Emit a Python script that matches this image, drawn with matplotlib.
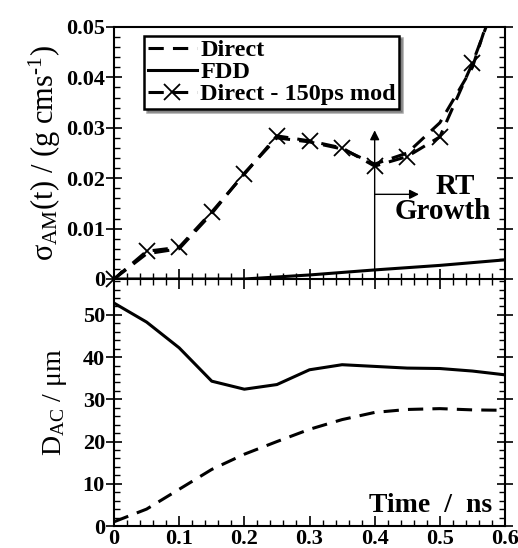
import matplotlib
matplotlib.use("Agg")
import matplotlib.pyplot as plt
from matplotlib.ticker import MultipleLocator

plt.rcParams['font.family'] = ['Liberation Serif', 'DejaVu Serif']
plt.rcParams['mathtext.fontset'] = 'custom'
plt.rcParams['mathtext.rm'] = 'Liberation Serif'
plt.rcParams['mathtext.it'] = 'Liberation Serif'

# top panel data
t_top = [0.0, 0.05, 0.1, 0.15, 0.2, 0.25, 0.3, 0.35, 0.4, 0.45, 0.5, 0.55, 0.6]
direct_top = [0.0, 0.005, 0.006, 0.013, 0.021, 0.028, 0.0272, 0.0258, 0.0228, 0.025, 0.031, 0.042, 0.062]
mod_top = [0.0, 0.0055, 0.0063, 0.0133, 0.0208, 0.0284, 0.0274, 0.026, 0.0224, 0.0243, 0.0282, 0.0428, 0.060]
t_fdd = [0.0, 0.2, 0.3, 0.4, 0.5, 0.6]
fdd_top = [0.0, 0.0, 0.0008, 0.0018, 0.0027, 0.0038]

# bottom panel data
t_bot = [0.0, 0.05, 0.1, 0.15, 0.2, 0.25, 0.3, 0.35, 0.4, 0.45, 0.5, 0.55, 0.6]
fdd_bot = [52.8, 48.3, 42.2, 34.3, 32.4, 33.5, 37.0, 38.2, 37.8, 37.4, 37.3, 36.7, 35.8]
direct_bot = [1.0, 4.0, 8.7, 13.4, 17.0, 20.0, 22.9, 25.2, 26.9, 27.6, 27.8, 27.5, 27.4]

top_yticks = [0, 0.01, 0.02, 0.03, 0.04, 0.05]
top_ylabels = ['0', '0.01', '0.02', '0.03', '0.04', '0.05']
bot_yticks = [0, 10, 20, 30, 40, 50]
xticks = [0, 0.1, 0.2, 0.3, 0.4, 0.5, 0.6]
xlabels = ['0', '0.1', '0.2', '0.3', '0.4', '0.5', '0.6']

fig = plt.figure(figsize=(5.18, 5.48), dpi=100)
L, R = 114/518, 505/518
ax1 = fig.add_axes([L, 1-279/548, R-L, (279-27)/548])
ax2 = fig.add_axes([L, 1-526/548, R-L, (526-279)/548])

dash = (5, 3)
lw = 2.2
ax1.plot(t_top, direct_top, color='black', lw=lw, ls=(0, dash), label='Direct')
ax1.plot(t_fdd, fdd_top, color='black', lw=lw, label='FDD')
ax1.plot(t_top, mod_top, color='black', lw=lw, ls=(0, dash), marker='x',
         markersize=11, mew=1.3, label='Direct - 150ps mod')
# show the marker at the origin un-clipped
ax1.plot(t_top[:1], mod_top[:1], color='black', ls='none', marker='x',
         markersize=11, mew=1.3, clip_on=False)

ax1.set_xlim(0, 0.6)
ax1.set_ylim(0, 0.05)
ax1.set_yticks(top_yticks)
ax1.set_yticklabels(top_ylabels)
ax1.set_xticks(xticks)
ax1.tick_params(labelbottom=False)

ax2.plot(t_bot, fdd_bot, color='black', lw=lw)
ax2.plot(t_bot, direct_bot, color='black', lw=lw, ls=(0, dash))
ax2.set_xlim(0, 0.6)
ax2.set_ylim(0, 58.5)
ax2.set_yticks(bot_yticks)
ax2.set_xticks(xticks)
ax2.set_xticklabels(xlabels)

for ax in (ax1, ax2):
    ax.xaxis.set_minor_locator(MultipleLocator(0.02))
    for s in ax.spines.values():
        s.set_linewidth(1.5)
    ax.tick_params(axis='y', which='major', direction='inout', length=11, width=1.2,
                   right=True, labelsize=16, pad=1)
    ax.tick_params(axis='x', which='major', direction='in', length=7, width=1.2,
                   labelsize=16, pad=2)
    ax.tick_params(which='minor', direction='in', length=4, width=1.0, right=True)
    for lab in ax.get_xticklabels() + ax.get_yticklabels():
        lab.set_fontweight('bold')
ax1.yaxis.set_minor_locator(MultipleLocator(0.002))
ax2.yaxis.set_minor_locator(MultipleLocator(2))
ax1.tick_params(which='both', top=False, bottom=True)
ax2.tick_params(which='both', top=True)
ax1.spines['bottom'].set_visible(False)

ax1.set_ylabel(r'$\sigma_{\rm AM}$(t) / (g cms$^{\rm \text{-}1}$)', fontsize=22, labelpad=2)
ax2.set_ylabel(r'D$_{\rm AC}$ / $\mu$m', fontsize=20, labelpad=10)

leg = ax1.legend(loc='upper left', bbox_to_anchor=(0.065, 0.985), frameon=True,
                 fancybox=False, shadow=True, handlelength=2.0, handletextpad=0.15,
                 borderpad=0.15, labelspacing=0.0, borderaxespad=0.2,
                 prop={'weight': 'bold', 'size': 17.5})
leg.get_frame().set_edgecolor('black')
leg.get_frame().set_linewidth(1.8)

# RT growth annotation
ax1.annotate('', xy=(0.4, 0.0295), xytext=(0.4, -0.0012),
             arrowprops=dict(arrowstyle='-|>', color='black', lw=1.0,
                             mutation_scale=14, shrinkA=0, shrinkB=0),
             annotation_clip=False)
ax1.annotate('', xy=(0.468, 0.0168), xytext=(0.4, 0.0168),
             arrowprops=dict(arrowstyle='-|>', color='black', lw=1.0,
                             mutation_scale=14, shrinkA=0, shrinkB=0))
ax1.text(0.524, 0.0184, 'RT', fontsize=21, fontweight='bold', ha='center', va='center')
ax1.text(0.504, 0.0133, 'Growth', fontsize=21, fontweight='bold', ha='center', va='center')

ax2.text(0.58, 4.8, 'Time  /  ns', fontsize=20, fontweight='bold', ha='right', va='center')

fig.savefig('out.png', dpi=100)
